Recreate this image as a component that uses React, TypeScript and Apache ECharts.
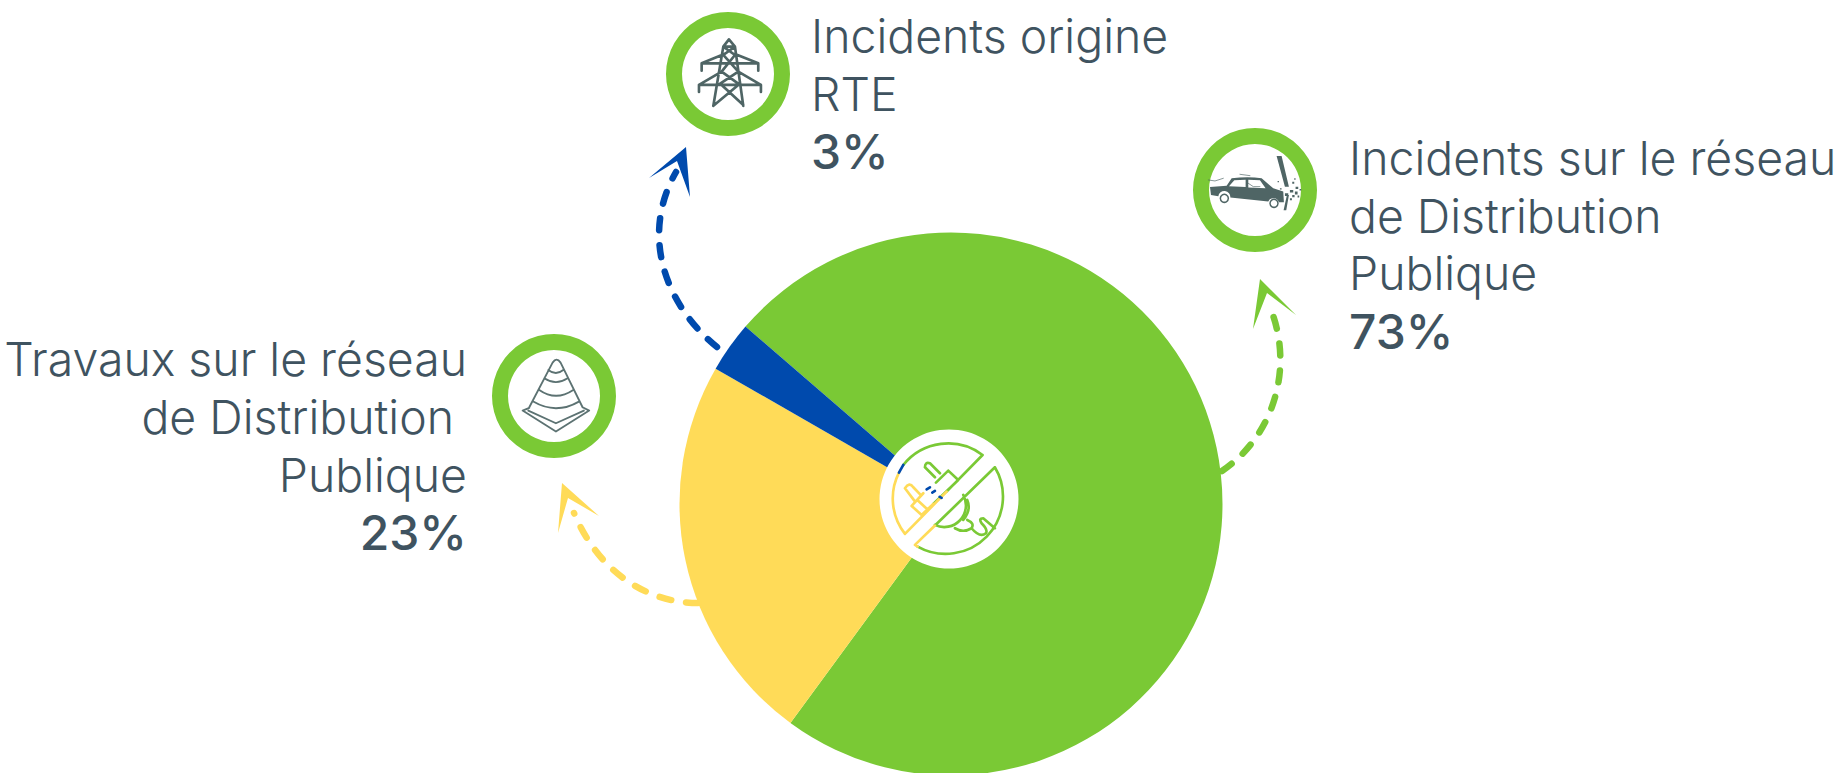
import React, { useEffect, useRef } from "react";
import * as echarts from "echarts";

const names = ["Incidents sur le réseau de Distribution Publique", "Travaux sur le réseau de Distribution Publique", "Incidents origine RTE"];
const values = [73, 23, 3];
const colors = ["#7AC935", "#FFDB58", "#004AAD"];
const labelRight = ["Incidents sur le réseau", "de Distribution", "Publique"];
const labelLeft = ["Travaux sur le réseau", "de Distribution ", "Publique"];
const labelTop = ["Incidents origine", "RTE"];

const TEXT = "#3F5360";
const ICON = "#4F6565";
const FONT = "Inter";
const SIZE = 46.4;

const reg = (n: string, d: string) => echarts.graphic.registerShape(n, echarts.graphic.extendPath(d as any, {} as any) as any);

reg("towerIcon", "M132 28L115 50L150 50ZM115 50L85 228M150 50L175 228M115 50L150 75M150 50L115 75M115 75L160 125M150 75L110 125M110 125L165 165M160 125L100 165M110 165L175 225M160 165L88 225M118 72L50 100L220 100L150 72M50 100V122M220 100V122M110 125L42 165L228 165L160 125M42 165V186M228 165V186M100 165H170");
reg("coneIcon", "M218 128Q230 110 242 128L308 262M218 128L148 262M205 150Q228 168 250 150M193 175Q228 198 263 175M178 210Q228 245 280 210M160 245Q228 285 297 245M148 264L128 272L228 335L328 272L308 262M145 272L228 310L312 272");
reg("carBody", "M15 126L65 122L80 100Q130 94 170 100L205 130L235 140L237 172L222 172A17 17 0 0 0 190 170L76 158A18 18 0 0 0 40 154L18 150Z");
reg("carWindows", "M72 124L88 106L122 104L122 126ZM130 104L165 106L182 130L130 128Z");
reg("pole", "M215 33L230 33L252 125L240 125ZM246 150L252 150L244 196L236 196Z");
reg("wires", "M10 105L30 108L55 100M105 88L135 92M130 115L145 125L165 125");
reg("debris", "M225 130h5v4h-5zM262 110h6v6h-6zM272 125h8v7h-8zM255 135h10v8h-10zM270 140h8v9h-8zM284 132h5v5h-5zM240 145h10v8h-10zM262 150h7v7h-7zM278 152h5v6h-5zM255 160h6v6h-6zM268 100h4v4h-4zM218 108h4v4h-4z");

reg("hubGreen", "M308 75A172 172 0 0 0 70 105M308 75L200 185M345 112L165 287M345 112A172 172 0 0 1 113 350M135 112Q135 95 150 100L180 130M135 112L165 142M205 122L235 150L160 222M205 122L168 158M250 195A65 65 0 0 1 165 285M262 210Q275 240 250 270M225 295Q250 310 275 295Q285 280 262 270M275 295Q300 325 318 310Q325 300 305 280Q295 265 310 265L345 295");
reg("hubYellow", "M57 128A172 172 0 0 0 75 312L200 185M165 287L105 345L113 350M75 175Q88 155 100 172L122 195M75 175L103 212M130 190L95 228L125 255L160 222M112 210L142 238");
reg("hubBlue", "M70 105L57 128M140 178L150 172M157 188L165 183M179 201L185 204");

function placed(type: string, x: number, y: number, s: number, style: any) {
  return { type, x, y, z: 10, scaleX: s, scaleY: s, style };
}

function line(text: string, x: number, base: number, align: string, bold = false) {
  return {
    type: "text",
    x,
    y: base - 17,
    z: 20,
    style: { text, x: 0, y: 0, fill: TEXT, font: `${bold ? 500 : 300} ${bold ? 48 : SIZE}px ${FONT}`, textAlign: align, textVerticalAlign: "middle", verticalAlign: "middle" },
  };
}

function arrow(x1: number, y1: number, cx1: number, cy1: number, cx2: number, cy2: number, x2: number, y2: number, head: number[][], color: string) {
  return [
    {
      type: "bezierCurve",
      z: 10,
      shape: { x1, y1, cpx1: cx1, cpy1: cy1, cpx2: cx2, cpy2: cy2, x2, y2 },
      style: { stroke: color, lineWidth: 6.5, lineCap: "round", lineDash: [12, 15], fill: "none" },
    },
    { type: "polygon", z: 10, shape: { points: head }, style: { fill: color } },
  ];
}

function ring(cx: number, cy: number) {
  return { type: "ring", z: 10, shape: { cx, cy, r: 62, r0: 46 }, style: { fill: "#7AC935" } };
}

export default function App() {
  const ref = useRef<HTMLDivElement>(null);
  useEffect(() => {
    document.body.style.margin = "0";
    const chart = echarts.init(ref.current!, undefined, { renderer: "svg" });
    const stroke = (c: string, w: number) => ({ stroke: c, lineWidth: w, fill: "none", lineJoin: "round", lineCap: "round" });
    chart.setOption({
      animation: false,
      backgroundColor: "#fff",
      series: [
        {
          type: "pie",
          z: 1,
          center: [951, 504],
          radius: [0, 271.5],
          startAngle: 139.2,
          silent: true,
          label: { show: false },
          labelLine: { show: false },
          data: values.map((v, i) => ({ name: names[i], value: v, itemStyle: { color: colors[i] } })),
        },
      ],
      graphic: {
        z: 10,
        elements: [
          ...arrow(717, 347, 665, 305, 640, 235, 676, 172, [[686, 147], [649, 178], [677, 161], [690, 197]], colors[2]),
          ...arrow(698, 603, 650, 603, 600, 575, 574, 513, [[562, 483], [599, 516], [568, 498], [558, 533]], colors[1]),
          ...arrow(1222, 471, 1275, 435, 1295, 365, 1269, 305, [[1260, 279], [1296, 315], [1267, 293], [1253, 329]], colors[0]),
          ring(728, 74),
          ring(1255, 190),
          ring(554, 396),
          placed("towerIcon", 685, 30, 1 / 3, stroke(ICON, 8)),
          placed("coneIcon", 480, 320, 1 / 3, stroke("#5C7272", 5.5)),
          placed("carBody", 1205, 145, 1 / 3, { fill: ICON }),
          placed("carWindows", 1205, 145, 1 / 3, { fill: "#fff" }),
          placed("pole", 1205, 145, 1 / 3, { fill: ICON }),
          placed("wires", 1205, 145, 1 / 3, stroke(ICON, 2)),
          placed("debris", 1205, 145, 1 / 3, { fill: ICON }),
          { type: "circle", z: 11, shape: { cx: 1205 + 58 / 3, cy: 145 + 160 / 3, r: 4 }, style: { fill: "#fff", stroke: ICON, lineWidth: 1.5 } },
          { type: "circle", z: 11, shape: { cx: 1205 + 207 / 3, cy: 145 + 175 / 3, r: 4 }, style: { fill: "#fff", stroke: ICON, lineWidth: 1.5 } },
          { type: "circle", z: 10, shape: { cx: 949, cy: 499, r: 69.5 }, style: { fill: "#fff" } },
          placed("hubGreen", 880, 430, 1 / 3, stroke(colors[0], 8)),
          placed("hubYellow", 880, 430, 1 / 3, stroke(colors[1], 8)),
          placed("hubBlue", 880, 430, 1 / 3, stroke(colors[2], 8)),
          ...labelTop.map((t, i) => line(t, 811, 53 + i * 58, "left")),
          line(`${values[2]}%`, 811, 168, "left", true),
          ...labelRight.map((t, i) => line(t, 1349, 175 + i * 57.7, "left")),
          line(`${values[0]}%`, 1349, 348, "left", true),
          ...labelLeft.map((t, i) => line(t, 467, 376 + i * 58, "right")),
          line(`${values[1]}%`, 467, 549, "right", true),
        ],
      },
    });
    return () => chart.dispose();
  }, []);
  return <div ref={ref} style={{ width: 1839, height: 773 }} />;
}
